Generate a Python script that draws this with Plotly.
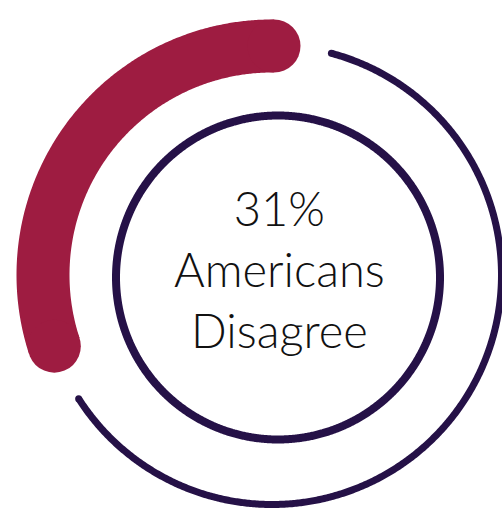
import numpy as np
import plotly.graph_objects as go

# ---- data ----
pct_disagree = 31                      # share shown by the thick arc
label_lines = ["31%", "Americans", "Disagree"]

# ---- style ----
RED = "#9E1C41"
PURPLE = "#251147"
W, H = 502, 527

# outer ring + thick arc share one centre, inner circle another (as in source)
OX, OY = 272, 275
IX, IY = 278, 277.5

R_ARC, ARC_W = 229, 53
R_RING, RING_W = 229.5, 7
R_INNER, INNER_W = 162, 8
TRIM_DEG = 3               # cap allowance on the thick arc
GAP_DEG = 14.5             # gap between thick arc and thin ring

arc_start = -0.5
arc_end = arc_start + pct_disagree * 3.6 - TRIM_DEG
ring_start = arc_end + GAP_DEG
ring_end = 360 + arc_start - GAP_DEG


def arc(cx, cy, r, deg):
    """angles measured counter-clockwise from 12 o'clock"""
    t = np.radians(np.asarray(deg, dtype=float))
    return cx - r * np.sin(t), cy - r * np.cos(t)


arc_theta = np.linspace(arc_start, arc_end, 300)
ring_theta = np.linspace(ring_start, ring_end, 600)
inner_theta = np.linspace(0, 360, 1081)

fig = go.Figure()

# thin outer ring (remaining share)
x, y = arc(OX, OY, R_RING, ring_theta)
fig.add_trace(go.Scatter(x=x, y=y, mode="lines",
                         line=dict(color=PURPLE, width=RING_W, simplify=False),
                         hoverinfo="skip"))
x, y = arc(OX, OY, R_RING, [ring_start, ring_end])
fig.add_trace(go.Scatter(x=x, y=y, mode="markers",
                         marker=dict(color=PURPLE, size=RING_W, line=dict(width=0)),
                         hoverinfo="skip"))

# thick arc (disagree share)
x, y = arc(OX, OY, R_ARC, arc_theta)
fig.add_trace(go.Scatter(x=x, y=y, mode="lines",
                         line=dict(color=RED, width=ARC_W, simplify=False),
                         hoverinfo="skip"))
x, y = arc(OX, OY, R_ARC, [arc_start, arc_end])
fig.add_trace(go.Scatter(x=x, y=y, mode="markers",
                         marker=dict(color=RED, size=ARC_W, line=dict(width=0)),
                         hoverinfo="skip"))

# inner circle
x, y = arc(IX, IY, R_INNER, inner_theta)
fig.add_trace(go.Scatter(x=x, y=y, mode="lines",
                         line=dict(color=PURPLE, width=INNER_W, simplify=False),
                         hoverinfo="skip"))

fig.update_layout(
    width=W, height=H,
    margin=dict(l=0, r=0, t=0, b=0),
    paper_bgcolor="white", plot_bgcolor="white",
    showlegend=False,
    xaxis=dict(visible=False, range=[0, W], fixedrange=True),
    yaxis=dict(visible=False, range=[H, 0], fixedrange=True),
    annotations=[dict(
        text="<br>".join(label_lines),
        x=279.5, y=269, xref="x", yref="y",
        xanchor="center", yanchor="middle", showarrow=False,
        font=dict(family="Lato", size=47, color="#111111", weight=300),
    )],
)

fig.write_html("out.html",
               config={"displayModeBar": False, "staticPlot": True},
               post_script="document.body.style.margin='0px';"
                           "document.body.style.overflow='hidden';")
